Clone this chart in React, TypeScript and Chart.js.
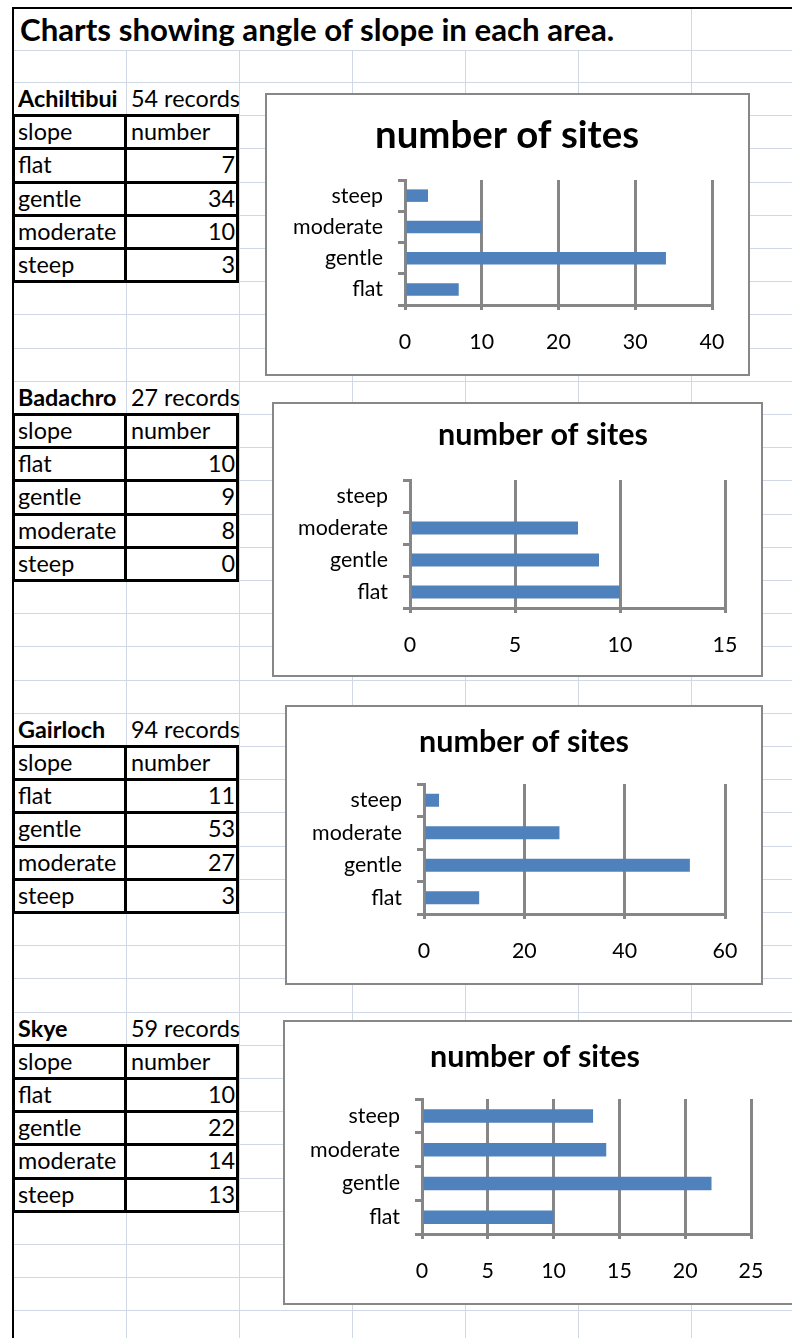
import React, { useEffect, useMemo, useRef } from 'react';
import { Chart, registerables } from 'chart.js';

Chart.register(...registerables);

// ---------- data ----------
const sheetTitle = 'Charts showing angle of slope in each area.';
const tableHeader = ['slope', 'number'];
const slopeCategories = ['flat', 'gentle', 'moderate', 'steep'];
const areaNames = ['Achiltibui', 'Badachro', 'Gairloch', 'Skye'];
const areaRecords = [54, 27, 94, 59];
const achiltibuiSites = [7, 34, 10, 3];
const badachroSites = [10, 9, 8, 0];
const gairlochSites = [11, 53, 27, 3];
const skyeSites = [10, 22, 14, 13];
const axisMax = [40, 15, 60, 25];
const axisStep = [10, 5, 20, 5];
const chartTitle = 'number of sites';

const areaSites = [achiltibuiSites, badachroSites, gairlochSites, skyeSites];

// ---------- layout ----------
const FONT = 'Lato, "Open Sans", "DejaVu Sans", sans-serif';
const GRID = '#d0d7e5';
const AXIS = '#868686';
const BAR = '#4f81bd';
const ROW0 = 82;
const ROWH = 33.2;
const rowTop = (k: number) => ROW0 + k * ROWH;
const sectionRow = [0, 9, 19, 28];
const colLines = [126, 239, 352, 465, 578, 691];

const chartBoxes = [
  { left: 265, top: 93, width: 485, height: 283, plotLeft: 405, plotRight: 712, plotTop: 180, plotBottom: 305, titleX: 507, titleY: 136, titleW: 264 },
  { left: 272, top: 402, width: 491, height: 275, plotLeft: 410, plotRight: 725, plotTop: 480, plotBottom: 608, titleX: 543, titleY: 435, titleW: 210 },
  { left: 285, top: 705, width: 478, height: 280, plotLeft: 424, plotRight: 725, plotTop: 784, plotBottom: 914, titleX: 524, titleY: 742, titleW: 210 },
  { left: 283, top: 1020, width: 520, height: 285, plotLeft: 422, plotRight: 751, plotTop: 1099, plotBottom: 1234, titleX: 535, titleY: 1057, titleW: 210 },
];

function fitSize(text: string, weight: string, target: number) {
  const ctx = document.createElement('canvas').getContext('2d')!;
  ctx.font = `${weight} 100px ${FONT}`;
  const w = ctx.measureText(text).width;
  return (100 * target) / w;
}

type Box = typeof chartBoxes[number];

function SlopeChart({ values, max, step, box, labelSize, titleSize }: { values: number[]; max: number; step: number; box: Box; labelSize: number; titleSize: number }) {
  const ref = useRef<HTMLCanvasElement | null>(null);
  const W = box.width;
  const H = box.height;
  useEffect(() => {
    const padR = box.left + W - box.plotRight;
    const tc = box.titleX - box.left;
    const lh = 1.2;
    const pt = box.titleY - box.top - (titleSize * lh) / 2;
    const pb = box.plotTop - box.top - pt - titleSize * lh;
    const yWidth = box.plotLeft - box.left;
    const xHeight = H - (box.plotBottom - box.top);
    const titleShift = {
      id: 'titleShift',
      afterLayout(c: any) {
        const t = c.titleBlock;
        if (t) {
          t.left = tc - W / 2;
          t.right = tc + W / 2;
        }
      },
    };
    const chart = new Chart(ref.current!, {
      type: 'bar',
      data: {
        labels: slopeCategories,
        datasets: [
          {
            data: values,
            backgroundColor: BAR,
            borderWidth: 0,
            barPercentage: 0.4,
            categoryPercentage: 1,
          },
        ],
      },
      plugins: [titleShift],
      options: {
        indexAxis: 'y',
        responsive: false,
        animation: false,
        events: [],
        layout: { padding: { left: 0, right: padR, top: 0, bottom: 0 } },
        plugins: {
          legend: { display: false },
          tooltip: { enabled: false },
          title: {
            display: true,
            text: chartTitle,
            color: '#000',
            font: { family: FONT, size: titleSize, weight: 'bold', lineHeight: lh },
            padding: { top: pt, bottom: pb },
          },
        },
        scales: {
          y: {
            type: 'category',
            reverse: true,
            offset: true,
            grid: { display: true, drawOnChartArea: false, drawTicks: true, tickLength: 7, color: AXIS, lineWidth: 3, offset: true },
            border: { display: true, color: AXIS, width: 3 },
            ticks: { color: '#000', font: { family: FONT, size: labelSize }, padding: 15 },
            afterFit: (s: any) => {
              s.width = yWidth;
            },
          },
          x: {
            type: 'linear',
            min: 0,
            max,
            ticks: { stepSize: step, color: '#000', font: { family: FONT, size: labelSize }, padding: 19, maxRotation: 0 },
            grid: { color: AXIS, lineWidth: 3, drawTicks: true, tickLength: 5 },
            border: { display: true, color: AXIS, width: 3 },
            afterFit: (s: any) => {
              s.height = xHeight;
            },
          },
        },
      } as any,
    });
    return () => chart.destroy();
  }, [values, max, step, box, labelSize, titleSize]);
  return (
    <div style={{ position: 'absolute', left: box.left, top: box.top, width: W, height: H, background: '#fff' }}>
      <canvas ref={ref} width={W} height={H} style={{ display: 'block', width: W, height: H }} />
      <div style={{ position: 'absolute', left: 0, top: 0, width: W, height: H, border: '2px solid #878787', boxSizing: 'border-box', pointerEvents: 'none' }} />
    </div>
  );
}

export default function App() {
  const sizes = useMemo(
    () => ({
      table: fitSize('54 records', 'normal', 109),
      title: fitSize(sheetTitle, 'bold', 595),
      label: fitSize('moderate', 'normal', 90),
      chartTitles: chartBoxes.map((b) => fitSize(chartTitle, 'bold', b.titleW)),
    }),
    []
  );

  const els: React.ReactNode[] = [];
  // horizontal gridlines
  els.push(<div key="h-title" style={{ position: 'absolute', left: 14, top: 50, width: 778, height: 1, background: GRID }} />);
  for (let k = 0; rowTop(k) < 1338; k++) {
    els.push(<div key={'h' + k} style={{ position: 'absolute', left: 14, top: Math.round(rowTop(k)), width: 778, height: 1, background: GRID }} />);
  }
  // vertical gridlines
  colLines.forEach((x) => {
    const top = x === 691 ? 8 : 50;
    els.push(<div key={'v' + x} style={{ position: 'absolute', left: x, top, width: 1, height: 1338 - top, background: GRID }} />);
  });

  const textBase: React.CSSProperties = {
    position: 'absolute',
    height: ROWH,
    lineHeight: `${ROWH}px`,
    fontSize: sizes.table,
    whiteSpace: 'nowrap',
    overflow: 'hidden',
    color: '#000',
  };

  areaNames.forEach((name, i) => {
    const s = sectionRow[i];
    // label row
    els.push(
      <div key={'n' + i} style={{ ...textBase, top: rowTop(s), left: 18, width: 108, fontWeight: 'bold' }}>{name}</div>
    );
    els.push(
      <div key={'r' + i} style={{ ...textBase, top: rowTop(s), left: 131, width: 120, overflow: 'visible' }}>{areaRecords[i]} records</div>
    );
    // header row
    els.push(<div key={'hs' + i} style={{ ...textBase, top: rowTop(s + 1), left: 18, width: 106 }}>{tableHeader[0]}</div>);
    els.push(<div key={'hn' + i} style={{ ...textBase, top: rowTop(s + 1), left: 131, width: 104 }}>{tableHeader[1]}</div>);
    slopeCategories.forEach((c, j) => {
      els.push(<div key={'c' + i + j} style={{ ...textBase, top: rowTop(s + 2 + j), left: 18, width: 106 }}>{c}</div>);
      els.push(
        <div key={'v' + i + j} style={{ ...textBase, top: rowTop(s + 2 + j), left: 127, width: 108, textAlign: 'right' }}>{areaSites[i][j]}</div>
      );
    });
    // table borders
    for (let k = s + 1; k <= s + 6; k++) {
      els.push(<div key={'tb' + i + k} style={{ position: 'absolute', left: 12, top: Math.round(rowTop(k)) - 1, width: 227, height: 3, background: '#000' }} />);
    }
    [12, 124, 236].forEach((x) => {
      const t = Math.round(rowTop(s + 1)) - 1;
      const b = Math.round(rowTop(s + 6)) + 2;
      els.push(<div key={'tv' + i + x} style={{ position: 'absolute', left: x, top: t, width: 3, height: b - t, background: '#000' }} />);
    });
  });

  return (
    <div style={{ position: 'absolute', left: 0, top: 0, width: 792, height: 1338, overflow: 'hidden', background: '#fff', fontFamily: FONT }}>
      {els}
      {/* sheet borders */}
      <div style={{ position: 'absolute', left: 12, top: 7, width: 780, height: 2, background: '#000' }} />
      <div style={{ position: 'absolute', left: 12, top: 7, width: 2, height: 1331, background: '#000' }} />
      <div style={{ position: 'absolute', left: 20, top: 8, height: 42, lineHeight: '42px', fontSize: sizes.title, fontWeight: 'bold', whiteSpace: 'nowrap', color: '#000' }}>
        {sheetTitle}
      </div>
      {chartBoxes.map((b, i) => (
        <SlopeChart key={i} values={areaSites[i]} max={axisMax[i]} step={axisStep[i]} box={b} labelSize={sizes.label} titleSize={sizes.chartTitles[i]} />
      ))}
    </div>
  );
}
